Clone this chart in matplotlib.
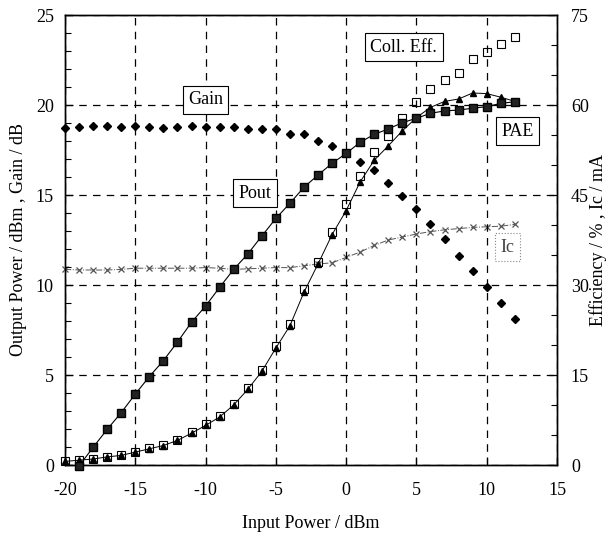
import matplotlib
matplotlib.use("Agg")
import matplotlib.pyplot as plt
import numpy as np

plt.rcParams['font.family'] = ['Liberation Serif', 'DejaVu Serif']
plt.rcParams['axes.unicode_minus'] = False

# ---- data ----
pin = list(range(-20, 13))
gain = [18.74, 18.78, 18.83, 18.85, 18.80, 18.85, 18.80, 18.72, 18.78, 18.83, 18.80,
        18.78, 18.76, 18.68, 18.65, 18.67, 18.37, 18.39, 18.0, 17.72, 17.31, 16.85,
        16.37, 15.69, 14.96, 14.22, 13.39, 12.54, 11.63, 10.78, 9.91, 9.02, 8.09]
pout_x = list(range(-19, 13))
pout = [-0.05, 0.98, 1.98, 2.91, 3.94, 4.91, 5.80, 6.83, 7.93, 8.83, 9.87, 10.87,
        11.72, 12.72, 13.7, 14.54, 15.43, 16.11, 16.76, 17.31, 17.93, 18.37, 18.67,
        19.02, 19.26, 19.54, 19.67, 19.72, 19.82, 19.91, 20.09, 20.18]
coll_eff = [0.67, 0.83, 1.06, 1.39, 1.67, 2.22, 2.78, 3.33, 4.17, 5.44, 6.78, 8.22,
            10.2, 12.9, 15.8, 19.8, 23.5, 29.3, 33.9, 38.9, 43.5, 48.2, 52.2, 54.9,
            57.8, 60.5, 62.6, 64.2, 65.4, 67.6, 68.9, 70.2, 71.3]
pae = [0.6, 0.8, 1.0, 1.35, 1.6, 2.15, 2.7, 3.25, 4.1, 5.3, 6.6, 8.0, 10.0, 12.6,
       15.6, 19.5, 23.2, 28.8, 33.5, 38.4, 42.4, 47.2, 50.8, 53.2, 55.7, 57.9, 59.6,
       60.6, 61.0, 62.0, 61.9, 61.3, 60.6]
ic = [32.6, 32.5, 32.5, 32.5, 32.6, 32.8, 32.8, 32.8, 32.8, 32.8, 32.9, 32.8, 32.6,
      32.7, 32.8, 32.9, 32.9, 33.2, 33.5, 33.7, 34.6, 35.5, 36.6, 37.5, 38.0, 38.5,
      38.9, 39.2, 39.4, 39.6, 39.7, 39.8, 40.1]

x_ticks = [-20, -15, -10, -5, 0, 5, 10, 15]
left_ticks = [0, 5, 10, 15, 20, 25]
right_ticks = [0, 15, 30, 45, 60, 75]

fig = plt.figure(figsize=(6.15, 5.45), dpi=100)
ax = fig.add_axes([65/615, 1-465/545, (557-65)/615, (465-15)/545])
ax2 = ax.twinx()

ax.set_xlim(-20, 15)
ax.set_ylim(0, 25)
ax2.set_ylim(0, 75)

ax.set_xticks(x_ticks)
ax.set_yticks(left_ticks)
ax.set_yticks(np.arange(0, 26, 1), minor=True)
ax2.set_yticks(right_ticks)
ax2.set_yticks(np.arange(0, 76, 5), minor=True)

ax.grid(True, which='major', color='black', linestyle=(0, (6, 5)), linewidth=0.9)
ax.tick_params(axis='x', direction='in', labelsize=13, length=6, width=0.9, pad=12)
ax.tick_params(axis='y', direction='in', labelsize=13, length=6, width=0.9, pad=8)
ax.tick_params(which='minor', direction='in', length=4, width=0.8, left=True, bottom=False)
ax2.tick_params(direction='in', labelsize=13, length=6, width=0.9, pad=10)
ax2.tick_params(which='minor', direction='in', length=4, width=0.8)

for a in (ax, ax2):
    for s in a.spines.values():
        s.set_linewidth(1.0)

# Gain
ax.plot(pin, gain, linestyle='none', marker='D', markersize=4.5, color='black',
        clip_on=False, zorder=4)
# Pout
ax.plot(pout_x, pout, linestyle='-', linewidth=0.8, marker='s', markersize=6,
        color='black', markerfacecolor='#222222', clip_on=False, zorder=5)

# Ic
ax2.plot(pin, ic, linestyle='-.', linewidth=0.7, color='#555555', marker='x',
         markersize=5, markeredgewidth=0.9, clip_on=False, zorder=3)
# PAE
ax2.plot(pin, pae, linestyle='-', linewidth=0.7, color='black', marker='^',
         markersize=5, clip_on=False, zorder=4)
# Collector efficiency
ax2.plot(pin, coll_eff, linestyle='none', marker='s', markersize=6,
         markerfacecolor='none', markeredgecolor='black', markeredgewidth=0.8,
         clip_on=False, zorder=5)

box = dict(boxstyle='square,pad=0.3', facecolor='white', edgecolor='black', linewidth=0.8)
ax.text(-10, 20.3, 'Gain', fontsize=13, ha='center', va='center', bbox=box, zorder=6)
ax.text(-6.5, 15.1, 'Pout', fontsize=13, ha='center', va='center', bbox=box, zorder=6)
ax.text(4.1, 23.2, 'Coll. Eff.', fontsize=13, ha='center', va='center', bbox=box, zorder=6)
ax.text(12.2, 18.55, 'PAE', fontsize=13, ha='center', va='center', bbox=box, zorder=6)
box_ic = dict(boxstyle='square,pad=0.3', facecolor='white', edgecolor='#888888',
              linewidth=0.8, linestyle=':')
ax.text(11.5, 12.1, 'Ic', fontsize=13, ha='center', va='center', bbox=box_ic,
        color='#444444', zorder=6)

ax.set_xlabel('Input Power / dBm', fontsize=13, labelpad=12)
fig.text(19/615, 1 - 240/545, 'Output Power / dBm , Gain / dB', fontsize=13,
         rotation=90, ha='center', va='center')
fig.text(598/615, 1 - 240/545, 'Efficiency / % , Ic / mA', fontsize=13,
         rotation=90, ha='center', va='center')

ax.set_zorder(ax2.get_zorder() + 1)
ax.patch.set_visible(False)

fig.savefig('out.png', dpi=100)
